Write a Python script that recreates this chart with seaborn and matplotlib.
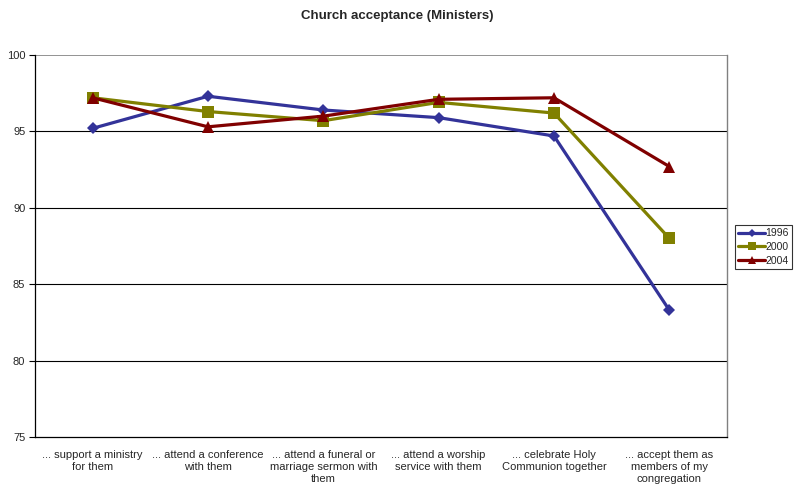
import matplotlib
matplotlib.use("Agg")
import matplotlib.pyplot as plt
import seaborn as sns
import pandas as pd
import numpy as np

categories = ["... support a ministry\nfor them",
              "... attend a conference\nwith them",
              "... attend a funeral or\nmarriage sermon with\nthem",
              "... attend a worship\nservice with them",
              "... celebrate Holy\nCommunion together",
              "... accept them as\nmembers of my\ncongregation"]
years = ["1996", "2000", "2004"]
v1996 = [95.2, 97.3, 96.4, 95.9, 94.7, 83.3]
v2000 = [97.2, 96.3, 95.7, 96.9, 96.2, 88.0]
v2004 = [97.2, 95.3, 96.0, 97.1, 97.2, 92.7]
yticks = [75, 80, 85, 90, 95, 100]

colors = {"1996": "#333399", "2000": "#808000", "2004": "#800000"}
markers = {"1996": "D", "2000": "s", "2004": "^"}
msize = {"1996": 6, "2000": 8, "2004": 8}

rows = []
for yr, vals in zip(years, [v1996, v2000, v2004]):
    for i, v in enumerate(vals):
        rows.append({"pos": i, "value": v, "year": yr})
df = pd.DataFrame(rows)

sns.set_style("white")
plt.rcParams['font.family'] = ['Liberation Sans', 'DejaVu Sans']

fig = plt.figure(figsize=(7.94, 4.88), dpi=100)
ax = fig.add_axes([35/794, 1-437/488, (727-35)/794, (437-55)/488])

for yr in years:
    sns.lineplot(data=df[df.year == yr], x="pos", y="value", ax=ax,
                 color=colors[yr], linewidth=2.3, marker=markers[yr],
                 markersize=msize[yr], markeredgewidth=0, label=yr, zorder=3)

ax.set_xlim(-0.5, len(categories) - 0.5)
ax.set_ylim(75, 100)
ax.set_yticks(yticks)
ax.set_yticklabels([str(t) for t in yticks], fontsize=8)
ax.set_xticks(range(len(categories)))
ax.set_xticklabels(categories, fontsize=8, linespacing=1.3)
ax.tick_params(axis='x', which='major', length=0, pad=9)
ax.set_xticks(np.arange(-0.5, len(categories), 1.0), minor=True)
ax.tick_params(axis='x', which='minor', length=4, width=0.8, color='black', direction='out')
ax.tick_params(axis='y', length=4, width=0.8, color='black', direction='out', left=True, pad=3)
ax.set_xlabel("")
ax.set_ylabel("")

for t in [80, 85, 90, 95]:
    ax.axhline(t, color='black', linewidth=0.8, zorder=1)
ax.axhline(100, color='#808080', linewidth=1.2, zorder=1)

for s in ['left', 'bottom']:
    ax.spines[s].set_color('black')
    ax.spines[s].set_linewidth(0.9)
ax.spines['right'].set_color('#808080')
ax.spines['right'].set_linewidth(1.0)
ax.spines['top'].set_visible(False)

fig.suptitle("Church acceptance (Ministers)", fontsize=9.5, fontweight='bold', y=1-16/488, va='center')

leg = ax.legend(loc='center left', bbox_to_anchor=(735/794, 1-247/488),
                bbox_transform=fig.transFigure, fontsize=7.5, frameon=True,
                fancybox=False, edgecolor='black', borderpad=0.3,
                handlelength=2.6, handletextpad=0.0, labelspacing=0.35,
                borderaxespad=0, markerscale=0.7)
leg.get_frame().set_linewidth(0.8)

fig.savefig("out.png", dpi=100)
